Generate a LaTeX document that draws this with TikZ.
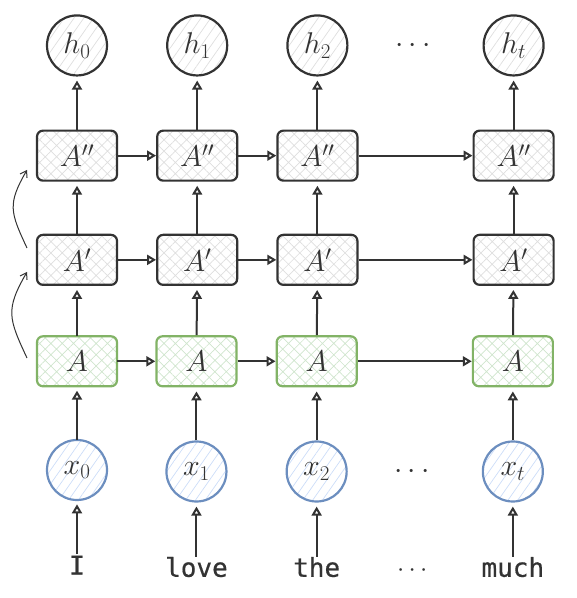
\RequirePackage{fix-cm}
\documentclass[tikz,border=0pt]{standalone}
\usepackage{fontspec}
\newfontfamily\wordfont[FakeBold=0.5]{DejaVu Sans Mono}
\usetikzlibrary{arrows.meta, positioning, patterns.meta, calc}

\definecolor{ink}{HTML}{333333}
\definecolor{hatchgray}{HTML}{DEDEDE}
\definecolor{leafgreen}{HTML}{82B366}
\definecolor{hatchgreen}{HTML}{CFE5CD}
\definecolor{skyblue}{HTML}{6C8EBF}
\definecolor{hatchblue}{HTML}{CCDDF8}

\begin{document}
\begin{tikzpicture}[
	x=1pt, y=1pt,
	every node/.style={text=ink, font=\fontsize{30}{32}\selectfont},
	cell/.style={rectangle, rounded corners=6pt, draw=ink, line width=2.2pt, minimum width=80pt, minimum height=50pt, pattern={Hatch[angle=45, distance=8pt, line width=0.7pt]}, pattern color=hatchgray},
	cell_in/.style={cell, draw=leafgreen, pattern color=hatchgreen},
	state/.style={circle, draw=ink, line width=2.2pt, minimum size=60pt, pattern={Lines[angle=55, distance=8pt, line width=0.7pt]}, pattern color=hatchgray},
	token/.style={state, draw=skyblue, pattern color=hatchblue},
	word/.style={font=\wordfont\fontsize{26}{28}\selectfont, inner sep=2pt, text height=18pt, text depth=0pt},
	arrow/.style={-{Triangle[open, length=9pt, width=10pt]}, draw=ink, line width=2pt},
	up_arrow/.style={arrow, shorten >=4pt},
	skip/.style={-{Straight Barb[length=6pt, width=8pt]}, draw=ink, line width=1pt}
	]
	\useasboundingbox (0,0) rectangle (577,598);
	
	% --- first column ---
	\node[token] (x0) at (77,128) {$x_0$};
	\node[cell_in] (A0) [above=53pt of x0] {$A$};
	\node[cell] (B0) [above=50pt of A0] {$A'$};
	\node[cell] (C0) [above=52pt of B0] {$A''$};
	\node[state] (h0) [above=53pt of C0] {$h_0$};
	\node[word] (w0) [below=54pt of x0] {I};
	
	% --- cells of the other steps ---
	\node[cell_in] (A1) [right=38pt of A0] {$A$};
	\node[cell_in] (A2) [right=38pt of A1] {$A$};
	\node[cell_in] (A3) [right=114pt of A2] {$A$};
	
	\node[cell] (B1) [right=38pt of B0] {$A'$};
	\node[cell] (B2) [right=38pt of B1] {$A'$};
	\node[cell] (B3) [right=114pt of B2] {$A'$};
	
	\node[cell] (C1) [right=38pt of C0] {$A''$};
	\node[cell] (C2) [right=38pt of C1] {$A''$};
	\node[cell] (C3) [right=114pt of C2] {$A''$};
	
	% --- inputs, outputs and words ---
	\node[token] (x1) [below=53pt of A1] {$x_1$};
	\node[token] (x2) [below=53pt of A2] {$x_2$};
	\node[token] (x3) [below=53pt of A3] {$x_t$};
	
	\node[state] (h1) [above=53pt of C1] {$h_1$};
	\node[state] (h2) [above=53pt of C2] {$h_2$};
	\node[state] (h3) [above=53pt of C3] {$h_t$};
	
	\node[word] (w1) [below=54pt of x1] {love};
	\node[word] (w2) [below=54pt of x2] {the};
	\node[word] (w3) [below=54pt of x3] {much};
	
	\node (dh) at ($(h2)!0.487!(h3)$) {$\cdots$};
	\node (dx) at ($(x2)!0.487!(x3)$) {$\cdots$};
	\node[word] (dw) at ($(w2)!0.487!(w3)$) {$\cdots$};
	
	% --- vertical arrows ---
	\draw[up_arrow] (w0) -- (x0);
	\draw[up_arrow] (w1) -- (x1);
	\draw[up_arrow] (w2) -- (x2);
	\draw[up_arrow] (w3) -- (x3);
	
	\draw[up_arrow] (x0) -- (A0);
	\draw[up_arrow] (x1) -- (A1);
	\draw[up_arrow] (x2) -- (A2);
	\draw[up_arrow] (x3) -- (A3);
	
	\draw[up_arrow] (A0) -- (B0);
	\draw[up_arrow] (A1) -- (B1);
	\draw[up_arrow] (A2) -- (B2);
	\draw[up_arrow] (A3) -- (B3);
	
	\draw[up_arrow] (B0) -- (C0);
	\draw[up_arrow] (B1) -- (C1);
	\draw[up_arrow] (B2) -- (C2);
	\draw[up_arrow] (B3) -- (C3);
	
	\draw[up_arrow] (C0) -- (h0);
	\draw[up_arrow] (C1) -- (h1);
	\draw[up_arrow] (C2) -- (h2);
	\draw[up_arrow] (C3) -- (h3);
	
	% --- horizontal arrows ---
	\draw[arrow] (A0) -- (A1);
	\draw[arrow] (A1) -- (A2);
	\draw[arrow] (A2) -- (A3);
	
	\draw[arrow] (B0) -- (B1);
	\draw[arrow] (B1) -- (B2);
	\draw[arrow] (B2) -- (B3);
	
	\draw[arrow] (C0) -- (C1);
	\draw[arrow] (C1) -- (C2);
	\draw[arrow] (C2) -- (C3);
	
	% --- curved arrows on the left ---
	\coordinate (s0) at (27,240);
	\coordinate (e0) at (27,326);
	\coordinate (s1) at (27,350);
	\coordinate (e1) at (27,428);
	\draw[skip] (s0) to[out=115, in=240, looseness=1.3] (e0);
	\draw[skip] (s1) to[out=115, in=240, looseness=1.3] (e1);
	
\end{tikzpicture}
\end{document}
